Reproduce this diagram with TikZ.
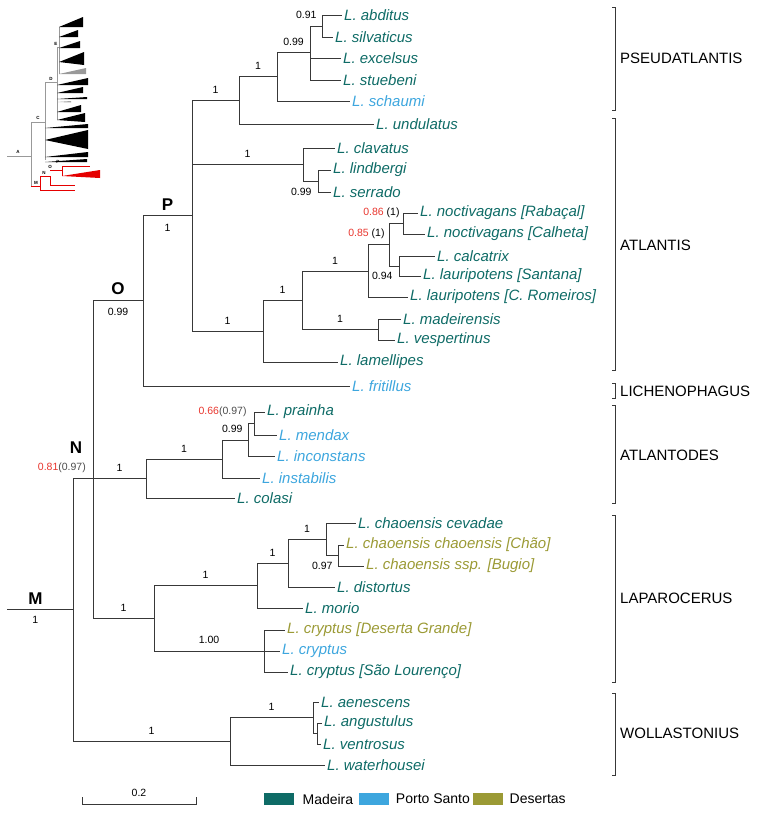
\documentclass[tikz,border=0pt]{standalone}
\usepackage{fontspec}
\setmainfont{Liberation Sans}
\usepackage{tikz}
\usetikzlibrary{positioning}

\definecolor{madeira}{HTML}{0E6B66}
\definecolor{portosanto}{HTML}{3DA6DE}
\definecolor{desertas}{HTML}{9B9A35}
\definecolor{suppred}{HTML}{E8352D}
\definecolor{treeline}{HTML}{383838}

\begin{document}
\begin{tikzpicture}
    [
        x = 1pt, y = -1pt,
        branch/.style = {draw = treeline, line width = 1pt},
        leaf/.style = {anchor = west, inner xsep = 2pt, inner ysep = 1pt, font = \fontsize{15}{17}\selectfont\itshape},
        mad/.style = {leaf, text = madeira},
        pst/.style = {leaf, text = portosanto},
        des/.style = {leaf, text = desertas},
        supp/.style = {font = \fontsize{10.5}{12}\selectfont, inner sep = 1pt},
        brlabel/.style = {supp, pos = 0.75, above = 5.5pt},
        letter/.style = {font = \fontsize{17}{19}\selectfont\bfseries, inner sep = 0pt},
        clade/.style = {anchor = west, font = \fontsize{15}{17}\selectfont, inner sep = 0pt},
        keytext/.style = {font = \fontsize{14}{16}\selectfont, inner sep = 0pt},
        keybox/.style = {minimum width = 30pt, minimum height = 12.5pt, inner sep = 0pt},
        bracket/.style = {draw = treeline, line width = 1pt},
        thumb/.style = {draw = black!40, line width = 0.6pt},
        thumbred/.style = {draw = red!90!black, line width = 0.7pt},
        thumbtext/.style = {font = \fontsize{4.5}{5}\selectfont\bfseries, inner sep = 0pt}
    ]

    \useasboundingbox (0,0) rectangle (756,817);

    % leaves
    \node[mad] (abditus) at (342,15) {L. abditus};
    \node[mad] (silvaticus) at (333,37) {L. silvaticus};
    \node[mad] (excelsus) at (341,58) {L. excelsus};
    \node[mad] (stuebeni) at (341,80) {L. stuebeni};
    \node[pst] (schaumi) at (350,101) {L. schaumi};
    \node[mad] (undulatus) at (374,124) {L. undulatus};
    \node[mad] (clavatus) at (335,148) {L. clavatus};
    \node[mad] (lindbergi) at (331,170) {L. lindbergi};
    \node[mad] (serrado) at (331,192) {L. serrado};
    \node[mad] (rabacal) at (418,213) {L. noctivagans [Rabaçal]};
    \node[mad] (calheta) at (425,234) {L. noctivagans [Calheta]};
    \node[mad] (calcatrix) at (435,256) {L. calcatrix};
    \node[mad] (santana) at (421,276) {L. lauripotens [Santana]};
    \node[mad] (romeiros) at (408,297) {L. lauripotens [C. Romeiros]};
    \node[mad] (madeirensis) at (401,319) {L. madeirensis};
    \node[mad] (vespertinus) at (395,340) {L. vespertinus};
    \node[mad] (lamellipes) at (338,362) {L. lamellipes};
    \node[pst] (fritillus) at (350,386) {L. fritillus};
    \node[mad] (prainha) at (265,412) {L. prainha};
    \node[pst] (mendax) at (277,435) {L. mendax};
    \node[pst] (inconstans) at (275,456) {L. inconstans};
    \node[pst] (instabilis) at (260,478) {L. instabilis};
    \node[mad] (colasi) at (235,498) {L. colasi};
    \node[mad] (cevadae) at (356,523) {L. chaoensis cevadae};
    \node[des] (chao) at (344,545) {L. chaoensis chaoensis [Chão]};
    \node[des] (bugio) at (364,566) {L. chaoensis ssp. [Bugio]};
    \node[mad] (distortus) at (335,587) {L. distortus};
    \node[mad] (morio) at (303,608) {L. morio};
    \node[des] (crypdg) at (285,630) {L. cryptus [Deserta Grande]};
    \node[pst] (cryp) at (280,651) {L. cryptus};
    \node[mad] (crypsl) at (288,672) {L. cryptus [São Lourenço]};
    \node[mad] (aenescens) at (319,702) {L. aenescens};
    \node[mad] (angustulus) at (322,723) {L. angustulus};
    \node[mad] (ventrosus) at (321,744) {L. ventrosus};
    \node[mad] (waterhousei) at (325,765) {L. waterhousei};

    % internal nodes
    \coordinate (root) at (7,609.5);
    \coordinate (nM) at (73,609.5);
    \coordinate (nN) at (93,478);
    \coordinate (nO) at (143,300.5);
    \coordinate (nP) at (192,215.5);
    \coordinate (nAbdUnd) at (239,100.5);
    \coordinate (nAbdSch) at (277,76.5);
    \coordinate (nAbdStu) at (310,52.5);
    \coordinate (nAbdSil) at (322,26);
    \coordinate (nClaSer) at (303,164.5);
    \coordinate (nLinSer) at (318,181);
    \coordinate (nNocLam) at (263,331);
    \coordinate (nNocVes) at (302,300);
    \coordinate (nNocRom) at (368,271);
    \coordinate (nNocSan) at (389,244.75);
    \coordinate (nNoct) at (403,223.5);
    \coordinate (nCalSan) at (399,266);
    \coordinate (nMadVes) at (378,329.5);
    \coordinate (nAtd) at (146,478);
    \coordinate (nPraIns) at (222,459);
    \coordinate (nPraInc) at (248,440);
    \coordinate (nPraMen) at (254,423.5);
    \coordinate (nLap) at (154,618.5);
    \coordinate (nCevMor) at (257,585.5);
    \coordinate (nCevDis) at (288,563);
    \coordinate (nCevBug) at (326,539);
    \coordinate (nChaBug) at (338,555.5);
    \coordinate (nCryp) at (264,651);
    \coordinate (nWol) at (230,741);
    \coordinate (nAenVen) at (313,717.5);
    \coordinate (nAngVen) at (317,733.5);

    % backbone
    \draw[branch] (root) -- (nM)
        node[pos = 0.43, above = 5pt, letter] (labM) {M}
        node[pos = 0.43, below = 5.7pt, supp] (supM) {1};
    \draw[branch] (nM) |- (nN);
    \draw[branch] (nM) |- (nWol) node[brlabel] (supWol) {1};
    \draw[branch] (nN) |- (nO)
        node[pos = 0.75, above = 5.4pt, letter] (labO) {O}
        node[pos = 0.75, below = 5.7pt, supp] (supO) {0.99};
    \draw[branch] (nN) |- (nAtd) node[brlabel] (supAtd) {1};
    \draw[branch] (nN) |- (nLap) node[brlabel] (supLap) {1};
    \node[letter] (labN) at ([xshift = -17pt, yshift = 30pt] nN) {N};
    \node[supp, anchor = east] (supN) at ([xshift = -6pt, yshift = 10pt] nN)
        {\textcolor{suppred}{0.81}\textcolor{black!70}{(0.97)}};

    % P, O
    \draw[branch] (nO) |- (nP)
        node[pos = 0.75, above = 4.4pt, letter] (labP) {P}
        node[pos = 0.75, below = 7.7pt, supp] (supP) {1};
    \draw[branch] (nO) |- (fritillus.west);
    \draw[branch] (nP) |- (nAbdUnd) node[brlabel] (supAbdUnd) {1};
    \draw[branch] (nP) |- (nClaSer) node[brlabel] (supClaSer) {1};
    \draw[branch] (nP) |- (nNocLam) node[brlabel] (supNocLam) {1};

    % pseudatlantis
    \draw[branch] (nAbdUnd) |- (nAbdSch) node[brlabel] (supAbdSch) {1};
    \draw[branch] (nAbdUnd) |- (undulatus.west);
    \draw[branch] (nAbdSch) |- (nAbdStu) node[brlabel] (supAbdStu) {0.99};
    \draw[branch] (nAbdSch) |- (schaumi.west);
    \draw[branch] (nAbdStu) |- (nAbdSil);
    \draw[branch] (nAbdStu) |- (excelsus.west);
    \draw[branch] (nAbdStu) |- (stuebeni.west);
    \draw[branch] (nAbdSil) |- (abditus.west) node[pos = 0.5, left = 4pt, supp] (supAbdSil) {0.91};
    \draw[branch] (nAbdSil) |- (silvaticus.west);

    % atlantis
    \draw[branch] (nClaSer) |- (clavatus.west);
    \draw[branch] (nClaSer) |- (nLinSer);
    \draw[branch] (nLinSer) |- (lindbergi.west);
    \draw[branch] (nLinSer) |- (serrado.west) node[pos = 0.5, left = 5pt, supp] (supLinSer) {0.99};
    \draw[branch] (nNocLam) |- (nNocVes) node[brlabel] (supNocVes) {1};
    \draw[branch] (nNocLam) |- (lamellipes.west);
    \draw[branch] (nNocVes) |- (nNocRom) node[brlabel] (supNocRom) {1};
    \draw[branch] (nNocVes) |- (nMadVes) node[brlabel] (supMadVes) {1};
    \draw[branch] (nMadVes) |- (madeirensis.west);
    \draw[branch] (nMadVes) |- (vespertinus.west);
    \draw[branch] (nNocRom) |- (nNocSan);
    \draw[branch] (nNocRom) |- (romeiros.west);
    \draw[branch] (nNocSan) |- (nNoct)
        node[pos = 0.5, anchor = east, xshift = -3pt, yshift = -10.5pt, supp] (supNocSan)
        {\textcolor{suppred}{0.85} (1)};
    \draw[branch] (nNocSan) |- (nCalSan);
    \draw[branch] (nNoct) |- (rabacal.west)
        node[pos = 0.5, left = 2pt, supp] (supNoct) {\textcolor{suppred}{0.86} (1)};
    \draw[branch] (nNoct) |- (calheta.west);
    \draw[branch] (nCalSan) |- (calcatrix.west);
    \draw[branch] (nCalSan) |- (santana.west) node[pos = 0.5, left = 5pt, supp] (supCalSan) {0.94};

    % atlantodes
    \draw[branch] (nAtd) |- (nPraIns) node[brlabel] (supPraIns) {1};
    \draw[branch] (nAtd) |- (colasi.west);
    \draw[branch] (nPraIns) |- (nPraInc);
    \draw[branch] (nPraIns) |- (instabilis.west);
    \draw[branch] (nPraInc) |- (nPraMen)
        node[pos = 0.5, anchor = east, xshift = -4pt, yshift = -5.5pt, supp] (supPraInc) {0.99};
    \draw[branch] (nPraInc) |- (inconstans.west);
    \draw[branch] (nPraMen) |- (prainha.west)
        node[pos = 0.5, left = 6pt, supp] (supPraMen) {\textcolor{suppred}{0.66}\textcolor{black!70}{(0.97)}};
    \draw[branch] (nPraMen) |- (mendax.west);

    % laparocerus
    \draw[branch] (nLap) |- (nCevMor) node[brlabel] (supCevMor) {1};
    \draw[branch] (nLap) |- (nCryp) node[brlabel] (supCryp) {1.00};
    \draw[branch] (nCevMor) |- (nCevDis) node[brlabel] (supCevDis) {1};
    \draw[branch] (nCevMor) |- (morio.west);
    \draw[branch] (nCevDis) |- (nCevBug) node[brlabel] (supCevBug) {1};
    \draw[branch] (nCevDis) |- (distortus.west);
    \draw[branch] (nCevBug) |- (cevadae.west);
    \draw[branch] (nCevBug) |- (nChaBug);
    \draw[branch] (nChaBug) |- (chao.west);
    \draw[branch] (nChaBug) |- (bugio.west) node[pos = 0.5, left = 4pt, supp] (supChaBug) {0.97};
    \draw[branch] (nCryp) |- (crypdg.west);
    \draw[branch] (nCryp) -- (cryp.west);
    \draw[branch] (nCryp) |- (crypsl.west);

    % wollastonius
    \draw[branch] (nWol) |- (nAenVen) node[brlabel] (supAenVen) {1};
    \draw[branch] (nWol) |- (waterhousei.west);
    \draw[branch] (nAenVen) |- (aenescens.west);
    \draw[branch] (nAenVen) |- (nAngVen);
    \draw[branch] (nAngVen) |- (angustulus.west);
    \draw[branch] (nAngVen) |- (ventrosus.west);

    % subgenera
    \draw[bracket] (612,7) -- (615,7) -- (615,110) -- (612,110);
    \node[clade] (pseudatlantis) at (620,58) {PSEUDATLANTIS};
    \draw[bracket] (612,118) -- (615,118) -- (615,370) -- (612,370);
    \node[clade] (atlantis) at (620,245) {ATLANTIS};
    \draw[bracket] (612,383) -- (615,383) -- (615,398) -- (612,398);
    \node[clade] (lichenophagus) at (620,391) {LICHENOPHAGUS};
    \draw[bracket] (612,405) -- (615,405) -- (615,503) -- (612,503);
    \node[clade] (atlantodes) at (620,455) {ATLANTODES};
    \draw[bracket] (612,515) -- (615,515) -- (615,682) -- (612,682);
    \node[clade] (laparocerus) at (620,598) {LAPAROCERUS};
    \draw[bracket] (612,693) -- (615,693) -- (615,775) -- (612,775);
    \node[clade] (wollastonius) at (620,733) {WOLLASTONIUS};

    % scale bar
    \coordinate (barL) at (82,804);
    \coordinate (barR) at (196,804);
    \draw[bracket] ([yshift = 7pt] barL) -- (barL) -- (barR) -- ([yshift = 7pt] barR);
    \node[supp] (scaleLbl) at (139,793) {0.2};

    % legend
    \node[keybox, fill = madeira, anchor = west] (keyMad) at (264,799) {};
    \node[keytext, right = 8pt of keyMad] (txtMad) {Madeira};
    \node[keybox, fill = portosanto, right = 5pt of txtMad] (keyPst) {};
    \node[keytext, right = 7pt of keyPst] (txtPst) {Porto Santo};
    \node[keybox, fill = desertas, right = 3pt of txtPst] (keyDes) {};
    \node[keytext, right = 6pt of keyDes] (txtDes) {Desertas};

    % thumbnail of the whole tree
    \draw[thumb] (7,156) -- (31,156);
    \draw[thumb] (31,122) -- (31,186);
    \draw[thumb] (31,122) -- (45,122);
    \draw[thumb] (45,82) -- (45,160);
    \draw[thumb] (45,82) -- (57,82);
    \draw[thumb] (57,47) -- (57,120);
    \draw[thumb] (57,47) -- (59,47);
    \draw[thumb] (59,27) -- (59,74);
    \node[thumbtext] (tA) at (18,152) {A};
    \node[thumbtext] (tC) at (38,118) {C};
    \node[thumbtext] (tD) at (51,79) {D};
    \node[thumbtext] (tE) at (56,44) {E};
    % collapsed clades
    \fill (59,27) -- (83,17) -- (83,27) -- cycle;
    \fill (59,37) -- (78,30) -- (78,37) -- cycle;
    \fill (59,48) -- (80,41) -- (80,48) -- cycle;
    \fill (59,62) -- (84,52) -- (84,65) -- cycle;
    \fill[black!40] (59,74) -- (86,68) -- (86,74) -- cycle;
    \fill (57,85) -- (88,78) -- (88,85) -- cycle;
    \fill (57,93) -- (83,87) -- (83,93) -- cycle;
    \fill (57,99) -- (87,97) -- (87,99) -- cycle;
    \fill[black!35] (57,102) -- (71,101) -- (71,102.5) -- cycle;
    \fill (57,112) -- (81,105) -- (81,112) -- cycle;
    \fill (57,120) -- (85,113) -- (85,122) -- cycle;
    \fill (45,128) -- (88,124) -- (88,128) -- cycle;
    \fill (45,140) -- (88,130) -- (88,149) -- cycle;
    \fill (45,157) -- (88,152) -- (88,157) -- cycle;
    \fill (45,162) -- (87,159) -- (87,162) -- cycle;
    % red part
    \draw[thumbred] (31,186) -- (40,186);
    \draw[thumbred] (40,176) -- (40,190) -- (75,190);
    \draw[thumbred] (40,176) -- (50,176) -- (50,185) -- (75,185);
    \draw[thumbred] (50,170) -- (62,170);
    \draw[thumbred] (62,166) -- (62,176);
    \draw[thumbred] (62,166) -- (90,166);
    \fill[red!90!black] (62,176) -- (100,170) -- (100,178) -- cycle;
    \node[thumbtext] (tP) at (58,162) {P};
    \node[thumbtext] (tO) at (50,167) {O};
    \node[thumbtext] (tN) at (44,173) {N};
    \node[thumbtext] (tM) at (36,183) {M};
\end{tikzpicture}
\end{document}
